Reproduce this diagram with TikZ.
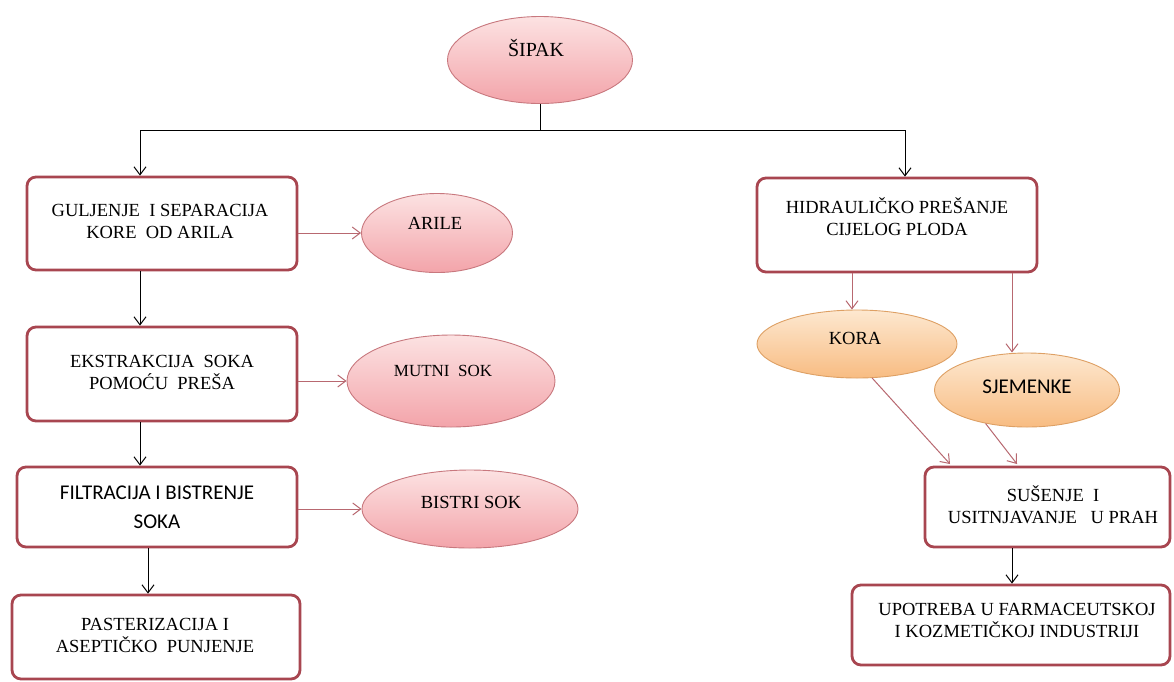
\documentclass[tikz,border=0pt]{standalone}
\usepackage{fontspec}
\setmainfont{Liberation Serif}
\newfontfamily\calib{Carlito}
\usetikzlibrary{arrows.meta,shapes.geometric,shadings}
\definecolor{boxred}{RGB}{168,70,80}
\definecolor{linkred}{RGB}{184,104,112}
\definecolor{pinktop}{RGB}{252,226,226}
\definecolor{pinkbot}{RGB}{243,164,170}
\definecolor{pinkline}{RGB}{200,120,126}
\definecolor{orgtop}{RGB}{253,232,208}
\definecolor{orgbot}{RGB}{248,188,130}
\definecolor{orgline}{RGB}{222,160,100}
\tikzset{
  procbox/.style={draw=boxred, line width=2.8pt, rounded corners=9pt, fill=white, inner sep=0pt},
  ptext/.style={align=center, font=\fontsize{18.5}{22}\selectfont, inner sep=0pt},
  stext/.style={align=center, font=\calib\fontsize{21}{29}\selectfont, inner sep=0pt},
  pinkell/.style={ellipse, draw=pinkline, line width=0.9pt, top color=pinktop, bottom color=pinkbot, inner sep=0pt},
  orgell/.style={ellipse, draw=orgline, line width=0.9pt, top color=orgtop, bottom color=orgbot, inner sep=0pt},
  blk/.style={draw=black, line width=1pt},
  blkarr/.style={blk, -{Straight Barb[length=8pt,width=12pt]}},
  redarr/.style={draw=linkred, line width=1pt, -{Straight Barb[length=8pt,width=12pt]}},
  etext/.style={font=\fontsize{18.5}{22}\selectfont, inner sep=0pt}
}
\begin{document}
\begin{tikzpicture}[x=1pt,y=-1pt]
\useasboundingbox[fill=white] (0,0) rectangle (1174,681);

% top ellipse
\node[pinkell, minimum width=185, minimum height=87] (sipak) at (540,60) {};
\node[etext, font=\fontsize{20}{24}\selectfont] (tsipak) at (536,48) {ŠIPAK};

% boxes
\node[procbox, minimum width=270, minimum height=93] (b1) at (162,223.5) {};
\node[ptext] (t1) at (160,221) {GULJENJE\ \ I SEPARACIJA\\KORE\ \ OD ARILA};
\node[procbox, minimum width=270, minimum height=94] (b2) at (162,374) {};
\node[ptext] (t2) at (162,372) {EKSTRAKCIJA\ \ SOKA\\POMOĆU\ \ PREŠA};
\node[procbox, minimum width=280, minimum height=80] (b3) at (157,507) {};
\node[stext] (t3) at (157,507) {FILTRACIJA I BISTRENJE\\SOKA};
\node[procbox, minimum width=288, minimum height=84] (b4) at (156,637) {};
\node[ptext] (t4) at (155,635) {PASTERIZACIJA I\\ASEPTIČKO\ \ PUNJENJE};

\node[procbox, minimum width=280, minimum height=94] (b5) at (897,225) {};
\node[ptext] (t5) at (897,217) {HIDRAULIČKO PREŠANJE\\CIJELOG PLODA};
\node[procbox, minimum width=245, minimum height=80] (b6) at (1047.5,507) {};
\node[ptext] (t6) at (1053,505) {SUŠENJE\ \ I\\USITNJAVANJE\ \ \ U PRAH};
\node[procbox, minimum width=318, minimum height=80] (b7) at (1011,625) {};
\node[ptext] (t7) at (1017,620) {UPOTREBA\ U FARMACEUTSKOJ\\I KOZMETIČKOJ INDUSTRIJI};

% product ellipses
\node[pinkell, minimum width=151, minimum height=79] (arile) at (437,233) {};
\node[etext] (tarile) at (435,223) {ARILE};
\node[pinkell, minimum width=208, minimum height=92] (mutni) at (451,381) {};
\node[etext, font=\fontsize{17}{20}\selectfont] (tmutni) at (443,371) {MUTNI\ \ SOK};
\node[pinkell, minimum width=216, minimum height=78] (bistri) at (470,509) {};
\node[etext] (tbistri) at (471,502) {BISTRI SOK};

\node[orgell, minimum width=200, minimum height=68] (kora) at (857,344) {};
\node[etext] (tkora) at (855,338) {KORA};
\node[orgell, minimum width=185, minimum height=74] (sjem) at (1027,390) {};
\node[etext, font=\calib\fontsize{21}{24}\selectfont] (tsjem) at (1027,387) {SJEMENKE};

% tree lines
\coordinate (hm) at (540,130);
\coordinate (hl) at (140,130);
\coordinate (hr) at (905,130);
\coordinate (xl) at (148,0);
\coordinate (xk) at (852,0);
\coordinate (xs) at (1012,0);
\draw[blk] (sipak.south) -- (hm);
\draw[blk] (hl) -- (hr);
\draw[blkarr] (hl) -- (b1.north -| hl);
\draw[blkarr] (hr) -- (b5.north -| hr);
\draw[blkarr] (b1.south -| hl) -- (b2.north -| hl);
\draw[blkarr] (b2.south -| hl) -- (b3.north -| hl);
\draw[blkarr] (b3.south -| xl) -- (b4.north -| xl);
\draw[blkarr] (b6.south -| xs) -- (b7.north -| xs);

% red connectors
\draw[redarr] (b1.east |- arile.west) -- (arile.west);
\draw[redarr] (b2.east |- 0,381) -- (mutni.west |- 0,381);
\draw[redarr] (b3.east |- bistri.west) -- (bistri.west);
\draw[redarr] (b5.south -| xk) -- (kora.north -| xk);
\draw[redarr] (b5.south -| xs) -- (sjem.north -| xs);
\coordinate (k1) at (950,464);
\coordinate (s1) at (1017,464);
\draw[redarr] (kora.-66) -- (k1);
\draw[redarr] (sjem.219) -- (s1);
\end{tikzpicture}
\end{document}
